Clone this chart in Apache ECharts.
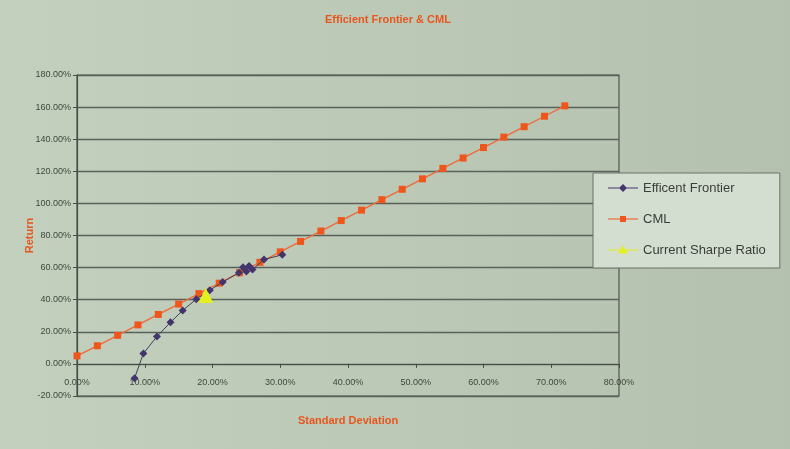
<!DOCTYPE html>
<html>
<head>
<meta charset="utf-8">
<script src="https://cdn.jsdelivr.net/npm/echarts@6/dist/echarts.min.js"></script>
<style>
  html, body { margin: 0; padding: 0; background: #bccab7; }
  #chart { width: 790px; height: 449px; }
</style>
</head>
<body>
<div id="chart"></div>
<script>
// Efficient frontier (standard deviation %, return %)
const frontierSD  = [8.5, 9.8, 11.8, 13.8, 15.6, 17.6, 19.6, 21.5, 23.9, 24.5, 25.0, 25.4, 25.9, 27.6, 30.3];
const frontierRet = [-8.9, 6.5, 17.1, 25.9, 33.3, 40.3, 45.9, 51.0, 56.8, 60.2, 57.6, 61.0, 58.8, 65.0, 68.0];

// Capital market line
const cmlSD  = [0, 3, 6, 9, 12, 15, 18, 21, 24, 27, 30, 33, 36, 39, 42, 45, 48, 51, 54, 57, 60, 63, 66, 69, 72];
const cmlRet = [5.0, 11.3, 17.8, 24.3, 30.8, 37.3, 43.8, 50.3, 56.8, 63.3, 69.8, 76.3, 82.8, 89.3, 95.8,
                102.3, 108.8, 115.3, 121.8, 128.3, 134.8, 141.3, 147.8, 154.3, 160.8];

// Current portfolio
const currentSD  = [19.0];
const currentRet = [42.6];

const seriesNames = ['Efficent Frontier', 'CML', 'Current Sharpe Ratio'];

const pairs = (xs, ys) => xs.map((x, i) => [x, ys[i]]);
const pct = v => v.toFixed(2) + '%';

// Legend keys: a thin line with a small marker in the middle, on a 30x14 box
const keyBox = 'M0,0Z M30,14Z ';
const keyLine = 'M0,6.4H30V7.6H0Z ';
const legendIcons = [
  'path://' + keyBox + keyLine + 'M15,3L19,7L15,11L11,7Z',
  'path://' + keyBox + keyLine + 'M12,4H18V10H12Z',
  'path://' + keyBox + keyLine + 'M15,2.5L20,10.5H10Z'
];

const chart = echarts.init(document.getElementById('chart'), null, { renderer: 'canvas' });

const orange = '#e8561f';
const font = 'Liberation Sans, Arial, sans-serif';
const labelFont = { color: '#3f463d', fontSize: 9, fontFamily: font };

// Plot box; the horizontal axis sits on the 0% line, one 20% band above the bottom edge
const gridTop = 75, gridBottom = 53, chartH = 449;
const yMin = -20, yMax = 180;
const bandPx = (chartH - gridTop - gridBottom) * (0 - yMin) / (yMax - yMin);

chart.setOption({
  animation: false,
  backgroundColor: {
    type: 'linear', x: 0, y: 0, x2: 1, y2: 0,
    colorStops: [
      { offset: 0, color: '#c2d0bd' },
      { offset: 1, color: '#b5c1af' }
    ]
  },
  title: {
    text: 'Efficient Frontier & CML',
    left: 320, top: 9,
    textStyle: { color: orange, fontSize: 11, fontWeight: 'bold', fontFamily: font }
  },
  legend: {
    orient: 'vertical',
    left: 593, top: 173,
    padding: [8, 14, 11, 15],
    itemWidth: 30, itemHeight: 14, itemGap: 17,
    backgroundColor: '#d3ded0',
    borderColor: '#6b7169', borderWidth: 1,
    textStyle: { color: '#3a3f39', fontSize: 13, fontFamily: font },
    data: seriesNames.map((name, i) => ({ name: name, icon: legendIcons[i] }))
  },
  grid: {
    left: 77, right: 171, top: gridTop, bottom: gridBottom,
    outerBoundsMode: 'none',
    show: true, borderColor: '#4f564d', borderWidth: 1.2,
    backgroundColor: 'transparent'
  },
  xAxis: {
    type: 'value', min: 0, max: 80, interval: 10,
    position: 'bottom', offset: -bandPx,
    name: 'Standard Deviation', nameLocation: 'middle', nameGap: 52,
    nameMoveOverlap: false,
    nameTextStyle: { color: orange, fontSize: 11, fontWeight: 'bold', fontFamily: font },
    axisLine: { onZero: false, lineStyle: { color: '#474e45', width: 1.2 } },
    axisTick: { length: 4, lineStyle: { color: '#474e45' } },
    axisLabel: Object.assign({ formatter: pct, margin: 14 }, labelFont),
    splitLine: { show: false }
  },
  yAxis: {
    type: 'value', min: yMin, max: yMax, interval: 20,
    name: 'Return', nameLocation: 'middle', nameGap: 42,
    nameMoveOverlap: false,
    nameTextStyle: { color: orange, fontSize: 11, fontWeight: 'bold', fontFamily: font },
    axisLine: { show: true, lineStyle: { color: '#474e45', width: 1.2 } },
    axisTick: { show: true, length: 4, lineStyle: { color: '#474e45' } },
    axisLabel: Object.assign({ formatter: pct, margin: 6 }, labelFont),
    splitLine: { show: true, lineStyle: { color: '#59615a', width: 1.3 } }
  },
  series: [
    {
      name: seriesNames[0], type: 'line',
      data: pairs(frontierSD, frontierRet),
      symbol: 'diamond', symbolSize: 8,
      itemStyle: { color: '#43356c' },
      lineStyle: { color: '#3e4058', width: 1 },
      z: 3
    },
    {
      name: seriesNames[1], type: 'line',
      data: pairs(cmlSD, cmlRet),
      symbol: 'rect', symbolSize: 7,
      itemStyle: { color: '#f0561c' },
      lineStyle: { color: '#ee6a3a', width: 1.4 },
      z: 2
    },
    {
      name: seriesNames[2], type: 'line',
      data: pairs(currentSD, currentRet),
      symbol: 'triangle', symbolSize: 15,
      itemStyle: { color: '#e2f020' },
      lineStyle: { color: '#e2f020', width: 1.4 },
      z: 4
    }
  ]
});
</script>
</body>
</html>
